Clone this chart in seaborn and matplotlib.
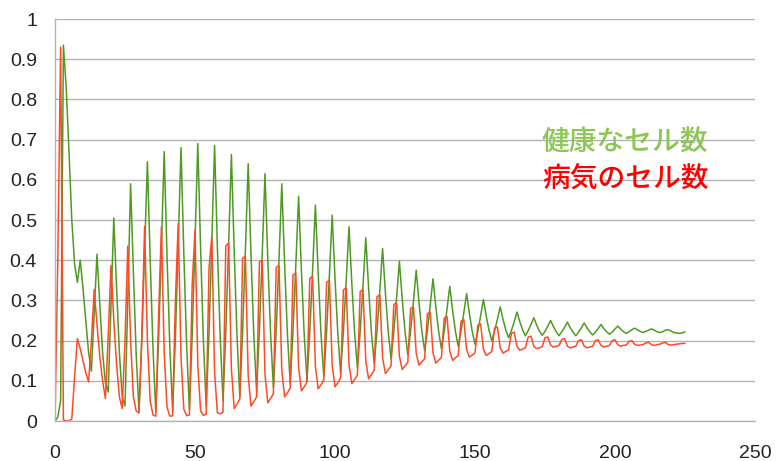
import matplotlib
matplotlib.use("Agg")
import matplotlib.pyplot as plt
import seaborn as sns
import pandas as pd
import numpy as np

# time steps 0..225
steps = list(range(226))

healthy = [
    0.000, 0.010, 0.050, 0.935, 0.830, 0.670, 0.500,          # 0-6
    0.390, 0.345, 0.400, 0.330, 0.250, 0.170,                 # 7-12
    0.124, 0.270, 0.415, 0.290, 0.170, 0.095,                 # 13-18
    0.072, 0.290, 0.505, 0.330, 0.170, 0.060,                 # 19-24
    0.037, 0.300, 0.590, 0.370, 0.165, 0.025,                 # 25-30
    0.200, 0.420, 0.645, 0.400, 0.180, 0.023,                 # 31-36
    0.204, 0.431, 0.670, 0.412, 0.186, 0.025,                 # 37-42
    0.208, 0.438, 0.680, 0.419, 0.191, 0.028,                 # 43-48
    0.213, 0.445, 0.690, 0.429, 0.200, 0.037,                 # 49-54
    0.218, 0.445, 0.685, 0.431, 0.209, 0.050,                 # 55-60
    0.222, 0.436, 0.663, 0.422, 0.211, 0.060,                 # 61-66
    0.222, 0.425, 0.640, 0.413, 0.214, 0.072,                 # 67-72
    0.224, 0.414, 0.615, 0.402, 0.216, 0.083,                 # 73-78
    0.225, 0.402, 0.590, 0.391, 0.217, 0.093,                 # 79-84
    0.223, 0.387, 0.559, 0.375, 0.215, 0.100,                 # 85-90
    0.222, 0.375, 0.537, 0.366, 0.217, 0.110,                 # 91-96
    0.223, 0.363, 0.512, 0.355, 0.218, 0.120,                 # 97-102
    0.222, 0.349, 0.483, 0.343, 0.220, 0.132,                 # 103-108
    0.223, 0.336, 0.456, 0.331, 0.221, 0.143,                 # 109-114
    0.223, 0.323, 0.429, 0.319, 0.224, 0.155,                 # 115-120
    0.223, 0.307, 0.397, 0.304, 0.223, 0.165,                 # 121-126
    0.224, 0.297, 0.375, 0.295, 0.225, 0.175,                 # 127-132
    0.225, 0.288, 0.354, 0.284, 0.224, 0.180,                 # 133-138
    0.223, 0.278, 0.335, 0.275, 0.223, 0.186,                 # 139-144
    0.223, 0.269, 0.317, 0.267, 0.223, 0.191,                 # 145-150
    0.222, 0.261, 0.302, 0.261, 0.226, 0.200,                 # 151-156
    0.224, 0.253, 0.284, 0.253, 0.226, 0.207,                 # 157-162
    0.225, 0.247, 0.271, 0.247, 0.227, 0.212,                 # 163-168
    0.225, 0.240, 0.257, 0.239, 0.224, 0.213,                 # 169-174
    0.223, 0.236, 0.250, 0.235, 0.222, 0.212,                 # 175-180
    0.222, 0.233, 0.246, 0.232, 0.221, 0.212,                 # 181-186
    0.221, 0.232, 0.244, 0.232, 0.222, 0.214,                 # 187-192
    0.221, 0.230, 0.240, 0.230, 0.222, 0.216,                 # 193-198
    0.221, 0.229, 0.236, 0.229, 0.222, 0.218,                 # 199-204
    0.222, 0.227, 0.231, 0.227, 0.223, 0.220,                 # 205-210
    0.223, 0.226, 0.229, 0.226, 0.222, 0.220,                 # 211-216
    0.222, 0.226, 0.227, 0.224, 0.220, 0.219,                 # 217-222
    0.218, 0.219, 0.222,                                      # 223-225
]

sick = [
    0.000, 0.400, 0.930, 0.003, 0.000, 0.000, 0.005,          # 0-6
    0.110, 0.205, 0.180, 0.150, 0.120, 0.097,                 # 7-12
    0.200, 0.327, 0.240, 0.160, 0.100, 0.056,                 # 13-18
    0.210, 0.387, 0.250, 0.140, 0.060, 0.031,                 # 19-24
    0.200, 0.435, 0.200, 0.060, 0.025, 0.020,                 # 25-30
    0.210, 0.484, 0.200, 0.050, 0.015, 0.012,                 # 31-36
    0.260, 0.483, 0.170, 0.035, 0.012, 0.013,                 # 37-42
    0.300, 0.491, 0.160, 0.030, 0.013, 0.015,                 # 43-48
    0.340, 0.474, 0.140, 0.025, 0.014, 0.017,                 # 49-54
    0.380, 0.458, 0.120, 0.020, 0.018, 0.022,                 # 55-60
    0.435, 0.443, 0.130, 0.031, 0.042, 0.055,                 # 61-66
    0.405, 0.410, 0.112, 0.037, 0.048, 0.060,                 # 67-72
    0.395, 0.400, 0.116, 0.045, 0.056, 0.068,                 # 73-78
    0.382, 0.387, 0.125, 0.060, 0.070, 0.082,                 # 79-84
    0.363, 0.368, 0.134, 0.075, 0.085, 0.097,                 # 85-90
    0.355, 0.360, 0.136, 0.080, 0.090, 0.102,                 # 91-96
    0.345, 0.350, 0.138, 0.085, 0.095, 0.107,                 # 97-102
    0.326, 0.331, 0.141, 0.093, 0.103, 0.114,                 # 103-108
    0.322, 0.327, 0.149, 0.105, 0.115, 0.126,                 # 109-114
    0.309, 0.314, 0.157, 0.118, 0.127, 0.137,                 # 115-120
    0.290, 0.294, 0.161, 0.128, 0.137, 0.146,                 # 121-126
    0.280, 0.284, 0.168, 0.139, 0.147, 0.155,                 # 127-132
    0.267, 0.271, 0.169, 0.144, 0.151, 0.158,                 # 133-138
    0.256, 0.260, 0.173, 0.151, 0.157, 0.163,                 # 139-144
    0.248, 0.252, 0.178, 0.159, 0.164, 0.169,                 # 145-150
    0.238, 0.242, 0.179, 0.163, 0.168, 0.173,                 # 151-156
    0.231, 0.234, 0.182, 0.169, 0.173, 0.177,                 # 157-162
    0.218, 0.221, 0.185, 0.176, 0.179, 0.182,                 # 163-168
    0.209, 0.211, 0.186, 0.180, 0.182, 0.185,                 # 169-174
    0.207, 0.209, 0.189, 0.184, 0.186, 0.188,                 # 175-180
    0.203, 0.205, 0.186, 0.182, 0.184, 0.186,                 # 181-186
    0.200, 0.202, 0.186, 0.182, 0.184, 0.186,                 # 187-192
    0.200, 0.202, 0.188, 0.184, 0.186, 0.188,                 # 193-198
    0.200, 0.202, 0.190, 0.186, 0.188, 0.189,                 # 199-204
    0.198, 0.200, 0.191, 0.188, 0.189, 0.190,                 # 205-210
    0.194, 0.196, 0.190, 0.188, 0.190, 0.191,                 # 211-216
    0.194, 0.196, 0.190, 0.189, 0.190, 0.191,                 # 217-222
    0.192, 0.193, 0.193,                                      # 223-225
]

label_healthy = "健康なセル数"
label_sick = "病気のセル数"
x_ticks = [0, 50, 100, 150, 200, 250]
y_ticks = [0, 0.1, 0.2, 0.3, 0.4, 0.5, 0.6, 0.7, 0.8, 0.9, 1]

df = pd.DataFrame({"t": steps, "healthy": healthy, "sick": sick})

sns.set_theme(style="whitegrid")
plt.rcParams["font.family"] = ["Liberation Sans", "DejaVu Sans"]

fig = plt.figure(figsize=(7.8, 4.61), dpi=100)
ax = fig.add_axes([55 / 780, 40 / 461, 700 / 780, 402 / 461])

sns.lineplot(data=df, x="t", y="healthy", ax=ax, color="#4f9a22", linewidth=1.1)
sns.lineplot(data=df, x="t", y="sick", ax=ax, color="#ff4a26", linewidth=1.1)

ax.set_xlim(0, 250)
ax.set_ylim(0, 1)
ax.set_xticks(x_ticks)
ax.set_yticks(y_ticks)
ax.set_xticklabels([str(v) for v in x_ticks])
ax.set_yticklabels(["0" if v == 0 else ("1" if v == 1 else f"{v:.1f}") for v in y_ticks])
ax.set_xlabel("")
ax.set_ylabel("")

ax.grid(axis="y", color="#b3b3b3", linewidth=1.0)
ax.grid(axis="x", visible=False)
for side in ["top", "right"]:
    ax.spines[side].set_visible(False)
for side in ["left", "bottom"]:
    ax.spines[side].set_color("#b3b3b3")
    ax.spines[side].set_linewidth(1.0)
ax.tick_params(axis="both", which="major", length=8, width=1.0, color="#b3b3b3",
               labelsize=14, labelcolor="#222222")
ax.tick_params(axis="y", pad=5)
ax.tick_params(axis="x", pad=9)
ax.set_axisbelow(True)

cjk = ["Noto Sans CJK JP", "DejaVu Sans"]
ax.text(542 / 780, 1 - 142 / 461, label_healthy, transform=fig.transFigure,
        fontsize=20, fontweight="medium", color="#8cc653", family=cjk,
        va="center", ha="left")
ax.text(542 / 780, 1 - 179 / 461, label_sick, transform=fig.transFigure,
        fontsize=20, fontweight="medium", color="#ff0000", family=cjk,
        va="center", ha="left")

fig.savefig("out.png", dpi=100)
